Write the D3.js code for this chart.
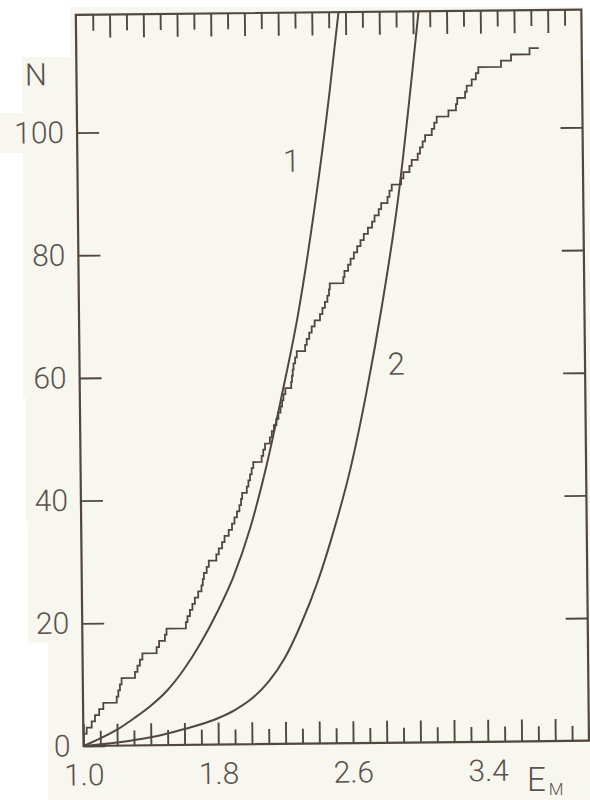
<!DOCTYPE html>
<html>
<head>
<meta charset="utf-8">
<script src="https://cdn.jsdelivr.net/npm/d3@7"></script>
<style>
  html, body { margin: 0; padding: 0; background: #ffffff; }
  svg { display: block; }
  text { font-family: Roboto, "Liberation Sans", sans-serif; font-weight: 300; fill: #5a524c; }
</style>
</head>
<body>
<svg id="chart" width="590" height="800"></svg>
<script>
// Cumulative count N against E_M (staircase), and the two model curves 1 and 2.
const stairE = [1.000, 1.000, 1.020, 1.050, 1.070, 1.095, 1.120, 1.200, 1.210, 1.220, 1.230,
  1.310, 1.325, 1.340, 1.355, 1.440, 1.455, 1.490, 1.500, 1.615, 1.625, 1.640, 1.655, 1.670,
  1.690, 1.710, 1.718, 1.725, 1.742, 1.755, 1.800, 1.815, 1.835, 1.850, 1.875, 1.895, 1.910,
  1.925, 1.940, 1.950, 1.957, 1.985, 1.995, 2.005, 2.015, 2.025, 2.075, 2.085, 2.096, 2.125,
  2.137, 2.150, 2.165, 2.177, 2.190, 2.200, 2.208, 2.220, 2.255, 2.260, 2.265, 2.270, 2.280,
  2.290, 2.340, 2.350, 2.365, 2.380, 2.398, 2.430, 2.445, 2.460, 2.475, 2.485, 2.490, 2.571,
  2.578, 2.600, 2.615, 2.635, 2.655, 2.675, 2.695, 2.720, 2.745, 2.760, 2.785, 2.800, 2.838,
  2.850, 2.864, 2.920, 2.934, 2.970, 2.984, 3.020, 3.034, 3.050, 3.065, 3.105, 3.120, 3.135,
  3.205, 3.250, 3.258, 3.305, 3.315, 3.345, 3.370, 3.385, 3.520, 3.580, 3.690, 3.745];
const stairN = [0, 2, 3, 4, 5, 6, 7, 8, 9, 10, 11,
  12, 13, 14, 15, 16, 17, 18, 19, 20, 21, 22, 23, 24,
  25, 26, 27, 28, 29, 30, 31, 32, 33, 34, 35, 36, 37,
  38, 39, 40, 41, 42, 43, 44, 45, 46, 47, 48, 49, 50,
  51, 52, 53, 54, 55, 56, 57, 58, 59, 60, 61, 62, 63,
  64, 65, 66, 67, 68, 69, 70, 71, 72, 73, 74, 75, 76,
  77, 78, 79, 80, 81, 82, 83, 84, 85, 86, 87, 88, 89,
  90, 91, 92, 93, 94, 95, 96, 97, 98, 99, 100, 101, 102,
  103, 104, 105, 106, 107, 108, 109, 110, 111, 112, 113, 113];

const curve1E = [1.00, 1.10, 1.20, 1.30, 1.40, 1.50, 1.60, 1.70, 1.80, 1.90, 2.00, 2.10, 2.20, 2.30, 2.40, 2.50, 2.56];
const curve1N = [0, 1.2, 2.6, 4.4, 6.4, 8.9, 12.3, 16.5, 21.5, 27.3, 35.0, 45.0, 57.0, 70.0, 86.5, 106.0, 119.5];

const curve2E = [1.00, 1.20, 1.40, 1.60, 1.80, 1.90, 2.00, 2.10, 2.20, 2.30, 2.40, 2.50, 2.60, 2.70, 2.80, 2.90, 3.00, 3.035];
const curve2N = [0, 0.5, 1.3, 2.6, 4.3, 5.6, 7.4, 10.1, 14.0, 19.6, 26.4, 34.8, 44.6, 57.0, 71.5, 88.5, 111.0, 119.5];

const xTicks = [1.1, 1.2, 1.3, 1.4, 1.5, 1.6, 1.7, 1.8, 1.9, 2.0, 2.1, 2.2, 2.3, 2.4, 2.5, 2.6,
  2.7, 2.8, 2.9, 3.0, 3.1, 3.2, 3.3, 3.4, 3.5, 3.6, 3.7, 3.8, 3.9];
const xLabels = [1.0, 1.8, 2.6, 3.4];
const yTicks = [0, 20, 40, 60, 80, 100];
const yMax = 119.2;

const ink = "#51473f";
const svg = d3.select("#chart");

// paper tone behind the figure
svg.append("rect").attr("width", 590).attr("height", 800).attr("fill", "#ffffff");
svg.append("path")
  .attr("fill", "#f7f6ef")
  .attr("d", "M70,7 L583,7 L583,60 L590,60 L590,800 L48,800 L48,643 L28,643 L28,522 L26,522 L26,398 L23,398 L23,153 L0,153 L0,113 L22,113 L22,57 L70,57 Z");

const x = d3.scaleLinear().domain([1, 4]).range([83.5, 589]);
const y = d3.scaleLinear().domain([0, yMax]).range([746, 746 - yMax * 6.134]);

// the whole frame sits very slightly tilted on the page
const g = svg.append("g").attr("transform", `rotate(-0.6, ${x(1)}, ${y(0)})`);

g.append("clipPath").attr("id", "plot-clip")
  .append("rect")
  .attr("x", x(1)).attr("y", y(yMax))
  .attr("width", x(4) - x(1)).attr("height", y(0) - y(yMax));

// bottom axis with labelled long ticks
const isLong = d => Math.round(d * 10) % 2 === 0;
const fmt = d3.format(".1f");
const xAxisB = g.append("g")
  .attr("transform", `translate(0,${y(0)})`)
  .call(d3.axisBottom(x)
    .tickValues(xTicks.concat([1.0]))
    .tickSizeInner(-15).tickSizeOuter(0).tickPadding(18)
    .tickFormat(d => xLabels.some(v => Math.abs(v - d) < 1e-9) ? fmt(d) : ""));
xAxisB.selectAll(".tick line").attr("y2", d => isLong(d) ? -22 : -15);

const xAxisT = g.append("g")
  .attr("transform", `translate(0,${y(yMax)})`)
  .call(d3.axisTop(x).tickValues(xTicks).tickSizeInner(-16).tickSizeOuter(0).tickFormat(""));
xAxisT.selectAll(".tick line").attr("y2", d => isLong(d) ? 23 : 16);

const yAxisL = g.append("g")
  .attr("transform", `translate(${x(1)},0)`)
  .call(d3.axisLeft(y).tickValues(yTicks).tickSizeInner(-22).tickSizeOuter(0).tickPadding(13)
    .tickFormat(d3.format("d")));

const yAxisR = g.append("g")
  .attr("transform", `translate(${x(4)},0)`)
  .call(d3.axisRight(y).tickValues(yTicks.slice(1)).tickSizeInner(-22).tickSizeOuter(0).tickFormat(""));

g.selectAll(".domain").remove();
g.selectAll(".tick line").attr("stroke", ink).attr("stroke-width", 1.9);
g.selectAll(".tick text")
  .attr("font-family", "Roboto, 'Liberation Sans', sans-serif")
  .attr("font-weight", 300)
  .attr("font-size", 30)
  .attr("fill", "#5a524c");

// frame
g.append("rect")
  .attr("x", x(1)).attr("y", y(yMax))
  .attr("width", x(4) - x(1)).attr("height", y(0) - y(yMax))
  .attr("fill", "none").attr("stroke", ink).attr("stroke-width", 2.2);

const plot = g.append("g").attr("clip-path", "url(#plot-clip)");

const smooth = d3.line().x(d => x(d[0])).y(d => y(d[1])).curve(d3.curveMonotoneX);
plot.append("path")
  .datum(curve1E.map((e, i) => [e, curve1N[i]]))
  .attr("d", smooth).attr("fill", "none").attr("stroke", ink).attr("stroke-width", 2);
plot.append("path")
  .datum(curve2E.map((e, i) => [e, curve2N[i]]))
  .attr("d", smooth).attr("fill", "none").attr("stroke", ink).attr("stroke-width", 2);

const stair = d3.line().x(d => x(d[0])).y(d => y(d[1])).curve(d3.curveStepAfter);
plot.append("path")
  .datum(stairE.map((e, i) => [e, stairN[i]]))
  .attr("d", stair).attr("fill", "none").attr("stroke", ink).attr("stroke-width", 1.8)
  .attr("stroke-linejoin", "miter");

// curve numbers and axis names
const label = (tx, ty, s, size) => g.append("text")
  .attr("x", tx).attr("y", ty).attr("font-size", size)
  .attr("text-anchor", "middle").attr("dominant-baseline", "central").text(s);
label(x(2.27), y(95.0), "1", 31);
label(x(2.88), y(61.7), "2", 31);
label(x(1) - 40.5, 74.5, "N", 31);

const em = svg.append("text").attr("x", 527).attr("y", 791).attr("font-size", 33);
em.append("tspan").text("E");
em.append("tspan").attr("font-size", 17).attr("dx", 3).attr("dy", 4).text("M");
</script>
</body>
</html>
